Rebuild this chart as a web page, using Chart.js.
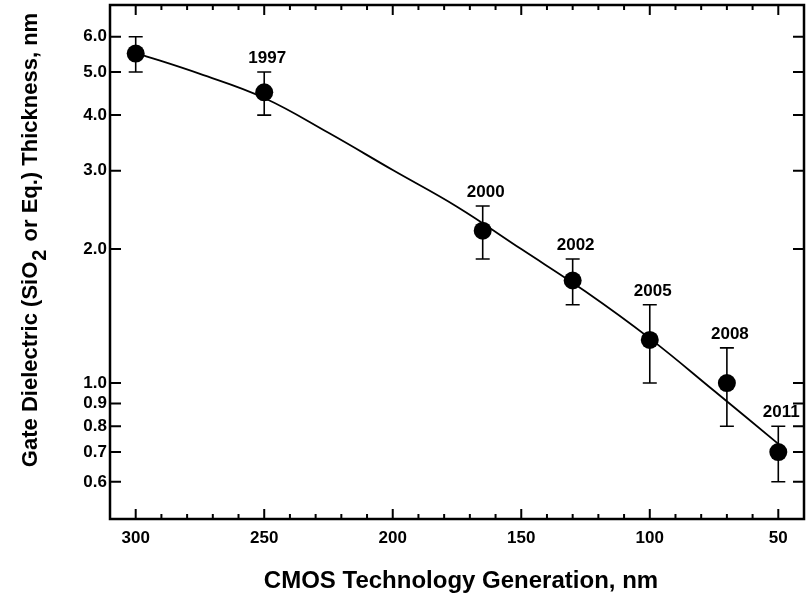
<!DOCTYPE html>
<html><head><meta charset="utf-8">
<script src="https://cdn.jsdelivr.net/npm/chart.js@4.4.0/dist/chart.umd.min.js"></script>
<style>html,body{margin:0;padding:0;background:#fff}#wrap{width:809px;height:595px;position:relative}</style>
</head><body><div id="wrap"><canvas id="c"></canvas></div>
<script>
// ---- data ----
const generations = [300, 250, 165, 130, 100, 70, 50];
const thickness   = [5.5, 4.5, 2.2, 1.7, 1.25, 1.0, 0.7];
const errLow      = [5.0, 4.0, 1.9, 1.5, 1.0, 0.8, 0.6];
const errHigh     = [6.0, 5.0, 2.5, 1.9, 1.5, 1.2, 0.8];
const years       = ['', '1997', '2000', '2002', '2005', '2008', '2011'];
const fitX = [300, 275, 250, 225, 200, 175, 150, 125, 100, 75, 50];
const fitY = [5.52, 4.95, 4.37, 3.65, 3.01, 2.49, 2.00, 1.606, 1.26, 0.961, 0.73];
const yTicks = [0.6, 0.7, 0.8, 0.9, 1.0, 2.0, 3.0, 4.0, 5.0, 6.0];
const xTicks = [300, 250, 200, 150, 100, 50];
const xMinorTicks = [290, 280, 270, 260, 240, 230, 220, 210, 190, 180, 170, 160, 140, 130, 120, 110, 90, 80, 70, 60];
const xTitle = 'CMOS Technology Generation, nm';
const yTitleParts = ['Gate Dielectric (SiO', '2', ' or Eq.) Thickness, nm'];

const FONT = '"Liberation Sans", Arial, Helvetica, sans-serif';

function noPad(s) { s.paddingTop = 0; s.paddingBottom = 0; s.paddingLeft = 0; s.paddingRight = 0; }

const decor = {
  id: 'decor',
  beforeDatasetsDraw(chart) {
    const ctx = chart.ctx, xs = chart.scales.x, ys = chart.scales.y;
    ctx.save();
    ctx.strokeStyle = '#000';
    ctx.lineWidth = 1.6;
    for (let i = 0; i < generations.length; i++) {
      const px = xs.getPixelForValue(generations[i]);
      const lo = ys.getPixelForValue(errLow[i]);
      const hi = ys.getPixelForValue(errHigh[i]);
      ctx.beginPath();
      ctx.moveTo(px, lo); ctx.lineTo(px, hi);
      ctx.moveTo(px - 7, lo); ctx.lineTo(px + 7, lo);
      ctx.moveTo(px - 7, hi); ctx.lineTo(px + 7, hi);
      ctx.stroke();
    }
    ctx.restore();
  },
  afterDraw(chart) {
    const ctx = chart.ctx, a = chart.chartArea, xs = chart.scales.x, ys = chart.scales.y;
    ctx.save();
    ctx.strokeStyle = '#000';
    ctx.lineWidth = 2;
    ctx.beginPath();
    yTicks.forEach(v => {
      const py = ys.getPixelForValue(v);
      ctx.moveTo(a.left, py); ctx.lineTo(a.left + 11, py);
      ctx.moveTo(a.right, py); ctx.lineTo(a.right - 11, py);
    });
    xTicks.forEach(v => {
      const px = xs.getPixelForValue(v);
      ctx.moveTo(px, a.bottom); ctx.lineTo(px, a.bottom - 10);
      ctx.moveTo(px, a.top); ctx.lineTo(px, a.top + 10);
    });
    xMinorTicks.forEach(v => {
      const px = xs.getPixelForValue(v);
      ctx.moveTo(px, a.bottom); ctx.lineTo(px, a.bottom - 5);
      ctx.moveTo(px, a.top); ctx.lineTo(px, a.top + 5);
    });
    ctx.stroke();
    ctx.lineWidth = 2.5;
    ctx.strokeRect(a.left, a.top, a.right - a.left, a.bottom - a.top);
    ctx.fillStyle = '#000';
    ctx.font = 'bold 17px ' + FONT;
    ctx.textAlign = 'center';
    ctx.textBaseline = 'alphabetic';
    for (let i = 0; i < generations.length; i++) {
      if (!years[i]) continue;
      const px = xs.getPixelForValue(generations[i]);
      const hi = ys.getPixelForValue(errHigh[i]);
      ctx.fillText(years[i], px + 3, hi - 9);
    }
    ctx.font = 'bold 24px ' + FONT;
    ctx.fillText(xTitle, 461, 588);
    ctx.translate(37, 240);
    ctx.rotate(-Math.PI / 2);
    ctx.font = 'bold 22px ' + FONT;
    const w1 = ctx.measureText(yTitleParts[0]).width;
    const w3 = ctx.measureText(yTitleParts[2]).width;
    ctx.font = 'bold 20px ' + FONT;
    const w2 = ctx.measureText(yTitleParts[1]).width;
    const total = w1 + w2 + 3 + w3;
    let x0 = -total / 2;
    ctx.textAlign = 'left';
    ctx.font = 'bold 22px ' + FONT;
    ctx.fillText(yTitleParts[0], x0, 0);
    ctx.font = 'bold 20px ' + FONT;
    ctx.fillText(yTitleParts[1], x0 + w1 + 1, 9);
    ctx.font = 'bold 22px ' + FONT;
    ctx.fillText(yTitleParts[2], x0 + w1 + w2 + 3, 0);
    ctx.restore();
  }
};

new Chart(document.getElementById('c'), {
  type: 'line',
  data: {
    datasets: [
      {
        data: fitX.map((x, i) => ({ x, y: fitY[i] })),
        borderColor: '#000', borderWidth: 1.8, pointRadius: 0,
        tension: 0.4, fill: false
      },
      {
        data: generations.map((x, i) => ({ x, y: thickness[i] })),
        showLine: false, pointRadius: 9, pointHoverRadius: 9,
        pointBackgroundColor: '#000', pointBorderColor: '#000', borderWidth: 0
      }
    ]
  },
  options: {
    responsive: true, maintainAspectRatio: false, animation: false,
    layout: { autoPadding: false, padding: { top: 5, right: 5, left: 0, bottom: 0 } },
    plugins: { legend: { display: false }, tooltip: { enabled: false } },
    scales: {
      x: {
        type: 'linear', reverse: true, min: 40, max: 310,
        afterBuildTicks: s => { s.ticks = xTicks.map(v => ({ value: v })); },
        afterFit: s => { s.height = 76; noPad(s); },
        grid: { display: false, drawTicks: false },
        border: { display: false },
        ticks: { color: '#000', padding: 9, maxRotation: 0, autoSkip: false,
                 font: { family: FONT, size: 17, weight: 'bold' } }
      },
      y: {
        type: 'logarithmic', min: 0.495, max: 7.07,
        afterBuildTicks: s => { s.ticks = yTicks.map(v => ({ value: v })); },
        afterFit: s => { s.width = 110; noPad(s); },
        grid: { display: false, drawTicks: false },
        border: { display: false },
        ticks: { color: '#000', padding: 3, autoSkip: false,
                 callback: v => Number(v).toFixed(1),
                 font: { family: FONT, size: 17, weight: 'bold' } }
      }
    }
  },
  plugins: [decor]
});
</script>
</body></html>
